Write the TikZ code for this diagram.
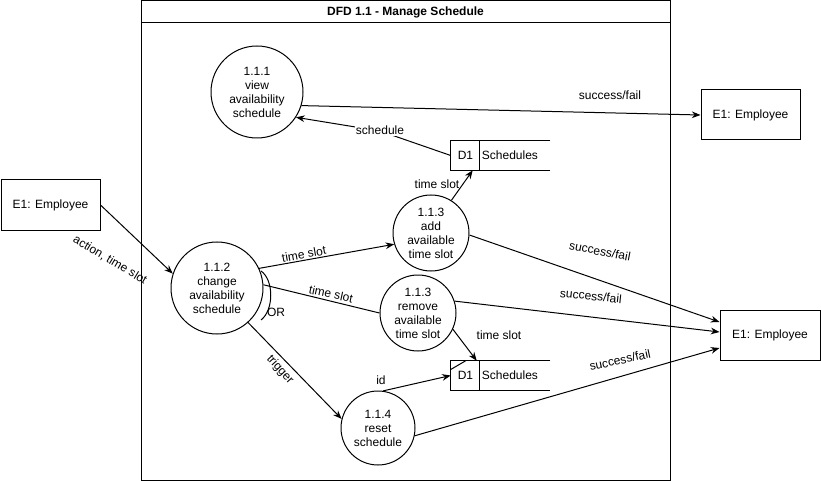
\documentclass[tikz,border=0pt]{standalone}
\usepackage{fontspec}
\setmainfont{Liberation Sans}
\usetikzlibrary{arrows.meta,calc}
\begin{document}
\begin{tikzpicture}[x=0.75pt,y=-0.75pt,
  every node/.style={font=\fontsize{9}{10.5}\selectfont},
  proc/.style={circle,draw,line width=0.75pt,inner sep=0pt,align=center},
  ent/.style={rectangle,draw,line width=0.75pt,minimum width=74.25pt,minimum height=37.5pt},
  store/.style={rectangle,draw=none,minimum width=74.25pt,minimum height=21.75pt,inner sep=0pt},
  arr/.style={line width=0.75pt,-{Stealth[length=6.5pt,width=5pt]}},
  flow/.style={line width=0.75pt},
  lab/.style={inner sep=1pt}]
\useasboundingbox (0,0) rectangle (821,481);
% frame
\draw[flow] (141,1) rectangle (670,480);
\draw[flow] (141,23) -- (670,23);
\node[font=\fontsize{9}{10.5}\selectfont\bfseries] (title) at (405.5,12) {DFD 1.1 - Manage Schedule};
% processes
\node[proc,minimum size=69pt] (c1) at (257,92) {1.1.1\\view\\availability\\schedule};
\node[proc,minimum size=69pt] (c2) at (217,288) {1.1.2\\change\\availability\\schedule};
\node[proc,minimum size=57pt] (c3) at (431,233) {1.1.3\\add\\available\\time slot};
\node[proc,minimum size=57pt] (c4) at (418,313) {1.1.3\\remove\\available\\time slot};
\node[proc,minimum size=55.5pt] (c5) at (378,428) {1.1.4\\reset\\schedule};
% entities
\node[ent] (e1l) at (50.5,205) {E1: Employee};
\node[ent] (e1tr) at (750.5,115) {E1: Employee};
\node[ent,minimum width=75pt] (e1br) at (770,335) {E1: Employee};
% data stores
\node[store] (d1t) at (500.5,155.5) {};
\node[store] (d1b) at (500.5,375.5) {};
\foreach \s in {d1t,d1b} {
  \draw[flow] (\s.north east) -- (\s.north west) -- (\s.south west) -- (\s.south east);
  \draw[flow] ($(\s.north west)+(29,0)$) -- ($(\s.south west)+(29,0)$);
}
\node (d1tid) at (465.5,155.5) {D1};
\node[anchor=west,inner sep=2pt] (d1tname) at (479,155.5) {Schedules};
\node (d1bid) at (465.5,375.5) {D1};
\node[anchor=west,inner sep=2pt] (d1bname) at (479,375.5) {Schedules};
% connectors
\draw[arr] (e1l.east) -- (c2.162);
\draw[arr] (c1.-17) -- (e1tr.west);
\coordinate (sk) at (380,131);
\draw[arr] (d1t.west) -- (sk) -- (c1.-33);
\node[fill=white,inner sep=1pt] (schedlab) at (380,130) {schedule};
\draw[arr] (c3.58) -- ($(d1t.south west)+(22,0)$);
\draw[arr] (c2.25) -- (c3.197);
\draw[flow] (c2.4) -- (c4.west);
\draw[arr] (c4.-25) -- ($(d1b.north west)+(26,0)$);
\draw[arr] (c2.-48) -- (c5.166);
\draw[arr] (c5.82) -- (d1b.west);
\draw[flow] ($(d1b.west)+(0,-6)$) -- ($(d1b.north west)+(15,0)$);
\draw[arr] (c3.-3) -- ($(e1br.west)+(0,-13)$);
\draw[arr] (c4.18) -- ($(e1br.west)+(0,-3)$);
\draw[arr] (c5.-12) -- ($(e1br.west)+(0,13)$);
% OR arc
\draw[flow] (261,271) .. controls (274,280) and (274,310) .. (261,320);
\node[lab] (orlab) at (276,312) {OR};
% labels
\node[lab,rotate=-31] (l1) at (110,260) {action, time slot};
\node[lab] (l2) at (610,95) {success/fail};
\node[lab] (l3) at (437,184) {time slot};
\node[lab,rotate=10] (l4) at (304,254) {time slot};
\node[lab,rotate=-12] (l5) at (331,294) {time slot};
\node[lab] (l6) at (499,335) {time slot};
\node[lab,rotate=-48] (l7) at (280,370) {trigger};
\node[lab] (l8) at (381,380) {id};
\node[lab,rotate=-11] (l9) at (600,251) {success/fail};
\node[lab,rotate=-6] (l10) at (591,296) {success/fail};
\node[lab,rotate=12] (l11) at (620,360) {success/fail};
\end{tikzpicture}
\end{document}
